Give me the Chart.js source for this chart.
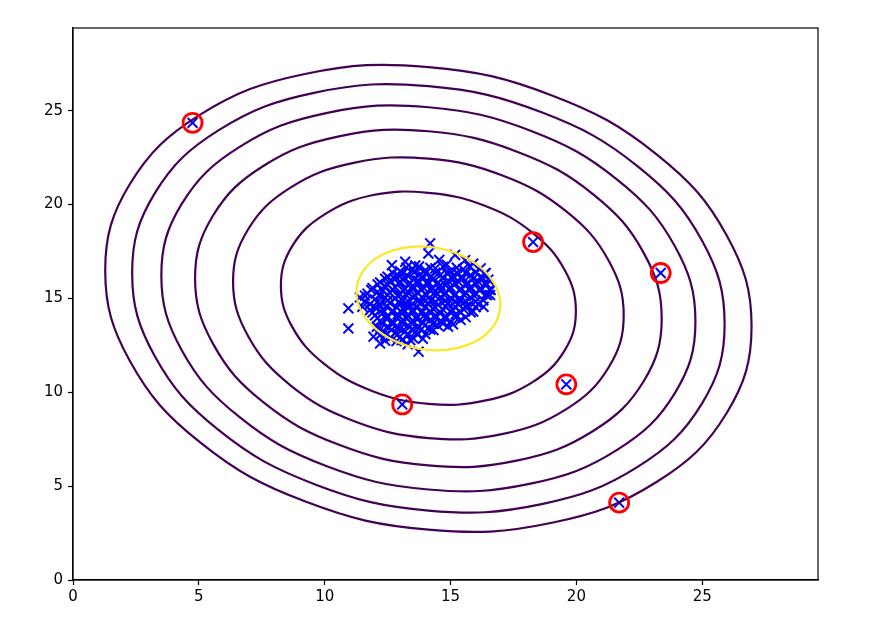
<!DOCTYPE html>
<html lang="en">
  <head>
    <meta charset="UTF-8" />
    <title>Anomaly detection - Gaussian fit</title>
    <script src="https://cdn.jsdelivr.net/npm/chart.js"></script>
    <style>
      body { margin: 0; background: #fff; }
      #wrap { width: 879px; height: 631px; }
    </style>
  </head>

  <body>
    <div id="wrap">
      <canvas id="fitChart" width="879" height="631"></canvas>
    </div>

    <script>
      // axis ticks
      const xTicks = [0, 5, 10, 15, 20, 25];
      const yTicks = [0, 5, 10, 15, 20, 25];

      // training examples (latency, throughput)
      const normalPts = [
        [14.19, 17.93], [14.12, 17.39], [15.18, 17.31], [13.2, 16.95], [15.58, 17.04], [12.67, 16.77],
        [14.55, 17.05], [13.6, 16.75], [14.85, 16.8], [15.9, 16.85], [16.2, 16.6],
        [13.0, 16.45], [13.5, 16.55], [14.0, 16.5], [14.4, 16.6], [15.0, 16.45], [15.5, 16.55], [16.0, 16.4], [16.35, 16.3],
        [12.5, 16.15], [12.9, 16.25], [13.3, 16.2], [13.8, 16.3], [14.2, 16.15], [14.6, 16.25], [15.1, 16.2],
        [15.4, 16.1], [15.8, 16.25], [16.2, 16.15], [16.5, 16.0],
        [12.2, 15.85], [12.6, 15.95], [13.0, 15.9], [13.4, 15.8], [13.7, 15.95], [14.1, 15.9], [14.5, 15.85],
        [14.9, 15.95], [15.3, 15.9], [15.7, 15.8], [16.1, 15.9], [16.45, 15.75],
        [11.9, 15.55], [12.4, 15.65], [12.8, 15.6], [13.2, 15.5], [13.5, 15.65], [13.9, 15.6], [14.3, 15.55],
        [14.6, 15.7], [15.0, 15.6], [15.4, 15.5], [15.8, 15.6], [16.2, 15.55], [16.6, 15.45],
        [11.7, 15.25], [12.1, 15.35], [12.6, 15.3], [13.0, 15.2], [13.3, 15.35], [13.7, 15.3], [14.0, 15.25],
        [14.4, 15.35], [14.8, 15.3], [15.2, 15.2], [15.6, 15.3], [16.0, 15.25], [16.4, 15.2],
        [11.4, 15.05], [12.0, 14.95], [12.4, 15.05], [12.8, 15.0], [13.1, 14.9], [13.5, 15.05], [13.9, 15.0],
        [14.2, 14.9], [14.6, 15.05], [15.0, 15.0], [15.4, 14.95], [15.8, 15.05], [16.3, 14.9], [16.57, 15.18],
        [11.8, 14.7], [12.2, 14.65], [12.6, 14.75], [13.0, 14.7], [13.4, 14.6], [13.8, 14.75], [14.1, 14.7],
        [14.5, 14.65], [14.9, 14.75], [15.3, 14.7], [15.7, 14.6], [16.1, 14.7], [16.31, 14.55],
        [10.94, 14.47], [11.8, 14.38], [12.3, 14.4], [12.7, 14.35], [13.1, 14.45], [13.5, 14.4], [13.9, 14.3],
        [14.3, 14.45], [14.7, 14.4], [15.1, 14.35], [15.5, 14.45], [15.9, 14.3],
        [12.0, 14.1], [12.5, 14.05], [12.9, 14.15], [13.3, 14.1], [13.7, 14.0], [14.0, 14.15], [14.4, 14.1],
        [14.8, 14.05], [15.2, 14.15], [15.6, 14.0],
        [12.2, 13.8], [12.7, 13.75], [13.1, 13.85], [13.5, 13.8], [13.9, 13.7], [14.2, 13.85], [14.6, 13.8],
        [15.0, 13.75], [15.4, 13.85],
        [10.94, 13.4], [12.07, 13.49], [12.5, 13.5], [12.9, 13.45], [13.3, 13.55], [13.7, 13.5], [14.1, 13.4],
        [14.32, 13.31], [14.5, 13.55], [14.9, 13.5],
        [12.4, 13.2], [12.8, 13.15], [13.2, 13.25], [13.6, 13.2], [14.0, 13.1],
        [11.94, 12.96], [12.6, 12.9], [13.06, 12.78], [13.5, 12.9], [13.9, 12.85],
        [12.2, 12.6], [13.3, 12.55], [13.73, 12.16],
        // second, denser pass through the core
        [13.25, 16.65], [13.75, 16.7], [14.2, 16.62], [14.7, 16.68], [15.25, 16.63], [15.75, 16.7],
        [12.7, 16.35], [13.1, 16.32], [13.55, 16.38], [14.0, 16.33], [14.4, 16.37], [14.85, 16.34], [15.25, 16.36],
        [15.6, 16.33], [16.0, 16.38], [16.4, 16.35],
        [12.4, 16.05], [12.8, 16.02], [13.15, 16.08], [13.55, 16.03], [13.9, 16.07], [14.3, 16.04], [14.7, 16.06],
        [15.1, 16.03], [15.5, 16.08], [15.9, 16.04], [16.3, 16.06],
        [12.1, 15.75], [12.5, 15.72], [12.95, 15.78], [13.3, 15.73], [13.7, 15.77], [14.1, 15.74], [14.45, 15.76],
        [14.8, 15.72], [15.2, 15.78], [15.6, 15.74], [16.0, 15.76], [16.4, 15.72],
        [11.85, 15.45], [12.3, 15.42], [12.7, 15.48], [13.1, 15.43], [13.5, 15.47], [13.85, 15.44], [14.2, 15.46],
        [14.6, 15.42], [14.95, 15.48], [15.35, 15.44], [15.75, 15.46], [16.15, 15.43], [16.55, 15.47],
        [11.6, 15.15], [12.2, 15.12], [12.5, 15.18], [12.9, 15.13], [13.25, 15.17], [13.6, 15.14], [14.05, 15.16],
        [14.4, 15.12], [14.75, 15.18], [15.15, 15.14], [15.55, 15.16], [15.95, 15.13], [16.45, 15.17],
        [11.6, 14.85], [12.1, 14.82], [12.5, 14.88], [12.95, 14.83], [13.3, 14.87], [13.7, 14.84], [14.0, 14.86],
        [14.4, 14.82], [14.8, 14.88], [15.2, 14.84], [15.6, 14.86], [16.0, 14.83],
        [11.5, 14.55], [12.0, 14.52], [12.45, 14.58], [12.85, 14.53], [13.25, 14.57], [13.65, 14.54], [14.0, 14.56],
        [14.4, 14.52], [14.8, 14.58], [15.2, 14.54], [15.6, 14.56], [16.0, 14.53],
        [11.9, 14.25], [12.3, 14.22], [12.7, 14.28], [13.1, 14.23], [13.5, 14.27], [13.85, 14.24], [14.2, 14.26],
        [14.6, 14.22], [15.0, 14.28], [15.4, 14.24], [15.8, 14.26],
        [12.1, 13.95], [12.45, 13.92], [12.85, 13.98], [13.25, 13.93], [13.6, 13.97], [14.0, 13.94], [14.4, 13.96],
        [14.8, 13.92], [15.2, 13.98],
        [12.3, 13.65], [12.7, 13.62], [13.1, 13.68], [13.5, 13.63], [13.9, 13.67], [14.3, 13.64], [14.7, 13.66], [15.1, 13.62],
        [12.2, 13.35], [12.65, 13.32], [13.0, 13.38], [13.45, 13.33], [13.85, 13.37], [14.2, 13.34],
        [12.2, 13.05], [12.4, 13.02], [12.9, 13.08], [13.3, 13.03], [13.7, 13.07],
        [12.4, 12.75], [12.85, 12.72], [13.4, 12.78]
      ];

      // flagged anomalies
      const anomalyX = [4.75, 18.28, 23.35, 13.08, 19.6, 21.7];
      const anomalyY = [24.35, 18.0, 16.35, 9.35, 10.42, 4.12];

      // contour levels 1e-20 ... 1e-5 (outer to inner), then 1e-2
      const contour20 = [
        [26.96, 13.51], [25.98, 8.91], [23.2, 5.23], [19.03, 3.05], [14.12, 2.68], [9.21, 4.19], [5.04, 7.34], [2.26, 11.66],
        [1.28, 16.49], [2.26, 21.09], [5.04, 24.77], [9.21, 26.95], [14.12, 27.32], [19.03, 25.81], [23.2, 22.66], [25.98, 18.34]
      ];
      const contour17 = [
        [25.89, 13.63], [25.0, 9.42], [22.45, 6.04], [18.62, 4.04], [14.12, 3.7], [9.62, 5.09], [5.79, 7.98], [3.24, 11.94],
        [2.35, 16.37], [3.24, 20.58], [5.79, 23.96], [9.62, 25.96], [14.12, 26.3], [18.62, 24.91], [22.45, 22.02], [25.0, 18.06]
      ];
      const contour14 = [
        [24.73, 13.77], [23.92, 9.97], [21.62, 6.93], [18.18, 5.13], [14.12, 4.82], [10.06, 6.07], [6.62, 8.67], [4.32, 12.24],
        [3.51, 16.23], [4.32, 20.03], [6.62, 23.07], [10.06, 24.87], [14.12, 25.18], [18.18, 23.93], [21.62, 21.33], [23.92, 17.76]
      ];
      const contour11 = [
        [23.39, 13.92], [22.68, 10.6], [20.68, 7.95], [17.67, 6.37], [14.12, 6.1], [10.57, 7.2], [7.56, 9.47], [5.56, 12.59],
        [4.85, 16.08], [5.56, 19.4], [7.56, 22.05], [10.57, 23.63], [14.12, 23.9], [17.67, 22.8], [20.68, 20.53], [22.68, 17.41]
      ];
      const contour8 = [
        [21.88, 14.1], [21.28, 11.32], [19.6, 9.1], [17.09, 7.78], [14.12, 7.56], [11.15, 8.47], [8.64, 10.37], [6.96, 12.98],
        [6.36, 15.9], [6.96, 18.68], [8.64, 20.9], [11.15, 22.22], [14.12, 22.44], [17.09, 21.53], [19.6, 19.63], [21.28, 17.02]
      ];
      const contour5 = [
        [19.98, 14.32], [19.53, 12.22], [18.26, 10.54], [16.36, 9.55], [14.12, 9.38], [11.88, 10.07], [9.98, 11.51], [8.71, 13.48],
        [8.26, 15.68], [8.71, 17.78], [9.98, 19.46], [11.88, 20.49], [14.12, 20.62], [16.36, 19.93], [18.26, 18.49], [19.53, 16.52]
      ];
      const contour2 = [
        [16.98, 14.67], [16.76, 13.64], [16.14, 12.82], [15.21, 12.34], [14.12, 12.25], [13.03, 12.59], [12.1, 13.29], [11.48, 14.26],
        [11.26, 15.33], [11.48, 16.36], [12.1, 17.18], [13.03, 17.66], [14.12, 17.75], [15.21, 17.41], [16.14, 16.71], [16.76, 15.74]
      ];

      // close a ring: wrap one point on each side so the spline is smooth at the seam,
      // the two wrap segments themselves are not painted
      function ring(pts) {
        const n = pts.length;
        const seq = [pts[n - 1]].concat(pts, [pts[0], pts[1]]);
        return seq.map((p) => ({ x: p[0], y: p[1] }));
      }

      function contourSet(pts, color) {
        const last = pts.length + 1;
        return {
          data: ring(pts),
          showLine: true,
          borderColor: color,
          borderWidth: 2.2,
          pointRadius: 0,
          tension: 0.4,
          fill: false,
          order: 1,
          segment: {
            borderColor: (c) => (c.p0DataIndex === 0 || c.p0DataIndex === last ? "rgba(0,0,0,0)" : color),
          },
        };
      }

      const purple = "#440154";
      const yellow = "#fde725";

      const bluePts = normalPts
        .map((p) => ({ x: p[0], y: p[1] }))
        .concat(anomalyX.map((x, i) => ({ x: x, y: anomalyY[i] })));

      // box around the plot area (matplotlib spines)
      const frame = {
        id: "frame",
        afterDraw(chart) {
          const a = chart.chartArea;
          const ctx = chart.ctx;
          ctx.save();
          ctx.strokeStyle = "#000";
          ctx.lineWidth = 1.2;
          ctx.strokeRect(a.left, a.top, a.right - a.left, a.bottom - a.top);
          ctx.restore();
        },
      };

      const tickFont = { family: "DejaVu Sans", size: 15 };

      new Chart(document.getElementById("fitChart"), {
        type: "scatter",
        data: {
          datasets: [
            {
              data: anomalyX.map((x, i) => ({ x: x, y: anomalyY[i] })),
              pointStyle: "circle",
              pointRadius: 9.5,
              pointBorderWidth: 2.8,
              pointBorderColor: "#ff0000",
              pointBackgroundColor: "rgba(0,0,0,0)",
              order: 0,
            },
            contourSet(contour20, purple),
            contourSet(contour17, purple),
            contourSet(contour14, purple),
            contourSet(contour11, purple),
            contourSet(contour8, purple),
            contourSet(contour5, purple),
            contourSet(contour2, yellow),
            {
              data: bluePts,
              pointStyle: "crossRot",
              pointRadius: 7,
              pointBorderWidth: 2,
              pointBorderColor: "#0000ff",
              order: 2,
            },
          ],
        },
        options: {
          responsive: false,
          animation: false,
          layout: { padding: { top: 28, right: 61, left: 0, bottom: 0 } },
          plugins: { legend: { display: false }, tooltip: { enabled: false } },
          scales: {
            x: {
              type: "linear",
              min: 0,
              max: 29.6,
              afterBuildTicks: (s) => { s.ticks = xTicks.map((v) => ({ value: v })); },
              afterFit: (s) => { s.height = 51; },
              grid: { drawOnChartArea: false, drawTicks: true, tickLength: 5, tickWidth: 1.2, tickColor: "#000" },
              border: { display: true, color: "#000", width: 1.2 },
              ticks: { color: "#000", font: tickFont, padding: 3, maxRotation: 0 },
            },
            y: {
              type: "linear",
              min: 0,
              max: 29.4,
              afterBuildTicks: (s) => { s.ticks = yTicks.map((v) => ({ value: v })); },
              afterFit: (s) => { s.width = 73; },
              grid: { drawOnChartArea: false, drawTicks: true, tickLength: 5, tickWidth: 1.2, tickColor: "#000" },
              border: { display: true, color: "#000", width: 1.2 },
              ticks: { color: "#000", font: tickFont, padding: 5 },
            },
          },
        },
        plugins: [frame],
      });
    </script>
  </body>
</html>
